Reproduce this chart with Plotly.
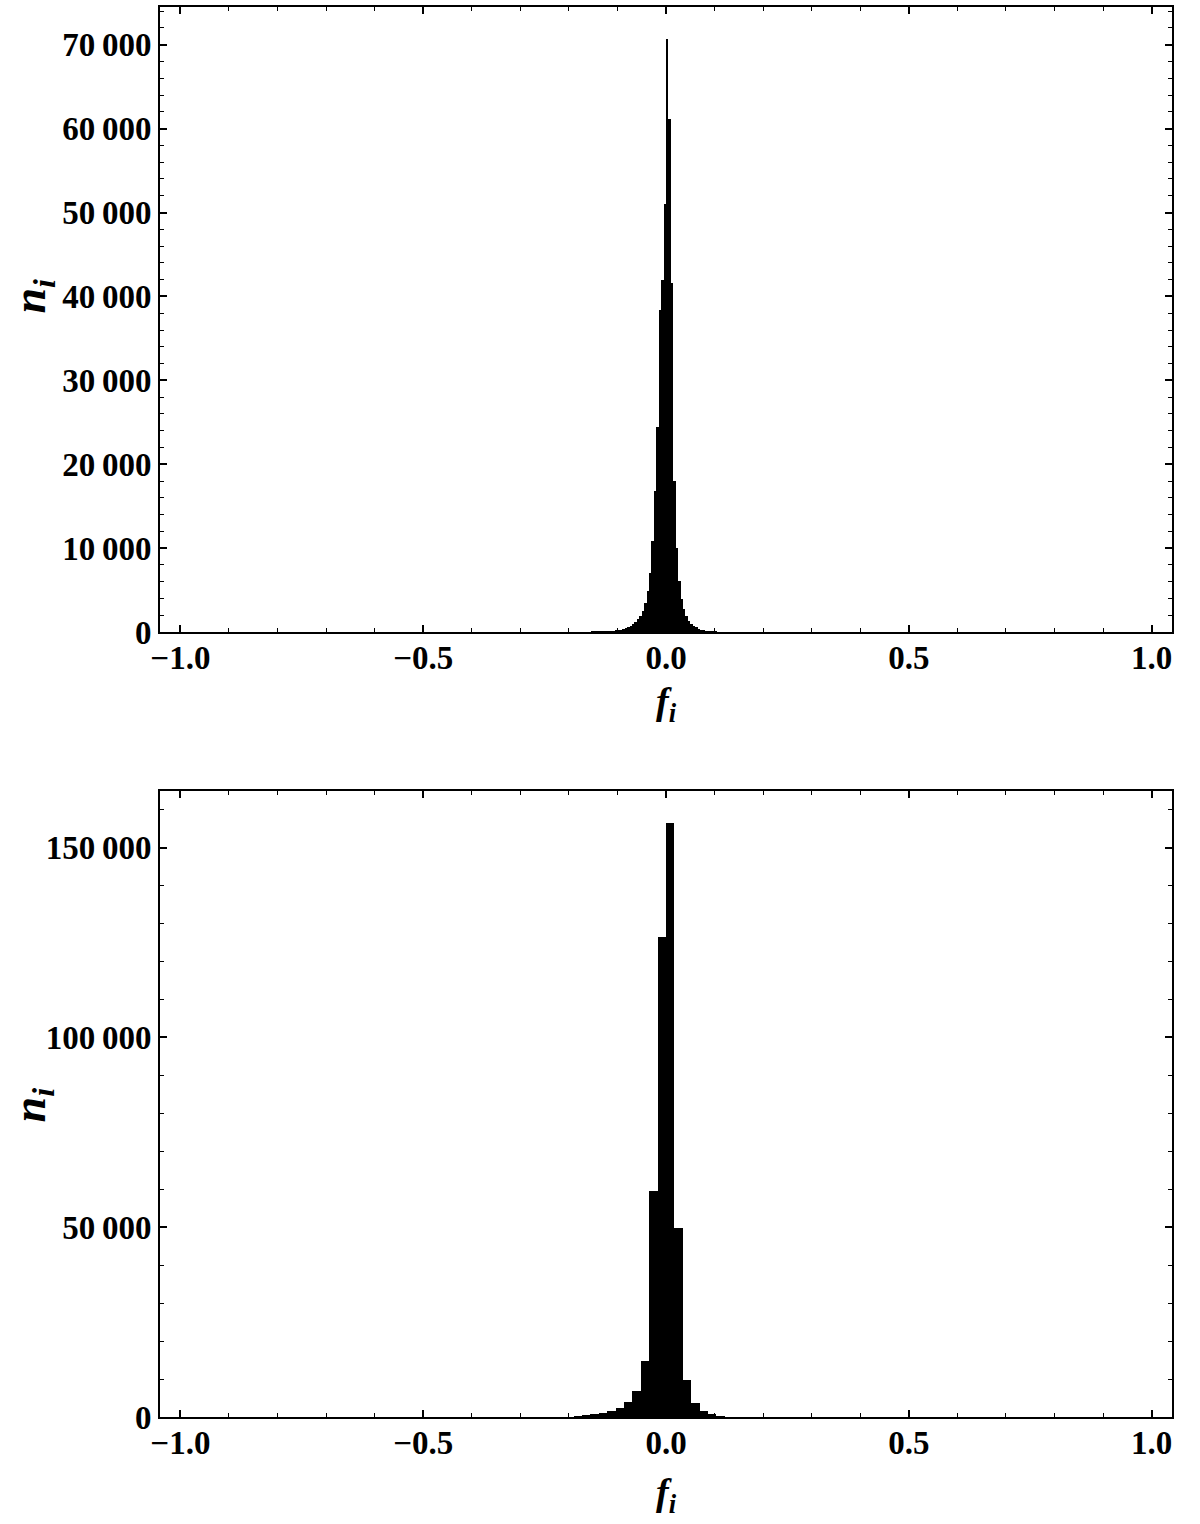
import plotly.graph_objects as go

# ---------------- data ----------------
# top histogram: bin width and counts per bin index k (bin = [k*w, (k+1)*w])
top_bin_width = 0.005
top_bin_index = list(range(-31, 21))
top_counts = [
    15, 20, 25, 30, 40, 50, 70, 90, 120, 150, 190, 240, 300, 380, 480,      # k=-31..-17
    600, 750, 950, 1200, 1500, 1900, 2500, 3500, 4900, 7000, 10800,         # k=-16..-6
    16800, 24400, 38400, 42000, 51000,                                      # k=-5..-1
    70700, 61200, 41600, 18000, 10000, 6100, 3900, 2700, 1900, 1300, 1000,  # k=0..10
    750, 550, 400, 300, 220, 160, 120, 90, 60, 40,                          # k=11..20
]

# bottom histogram
bot_bin_width = 0.0173
bot_bin_index = list(range(-11, 7))
bot_counts = [
    300, 450, 800, 1130, 1580, 2450, 3950, 6840, 14900,   # k=-11..-3
    59500, 126600,                                        # k=-2..-1
    156500, 49800, 9740, 3760, 1760, 870, 400,            # k=0..6
]

y_top_ticks = [0, 10000, 20000, 30000, 40000, 50000, 60000, 70000]
y_top_text = ["0", "10\u2009000", "20\u2009000", "30\u2009000", "40\u2009000",
              "50\u2009000", "60\u2009000", "70\u2009000"]
y_bot_ticks = [0, 50000, 100000, 150000]
y_bot_text = ["0", "50\u2009000", "100\u2009000", "150\u2009000"]
x_ticks = [-1.0, -0.5, 0.0, 0.5, 1.0]
x_text = ["\u22121.0", "\u22120.5", "0.0", "0.5", "1.0"]

# ---------------- figure ----------------
FONT = "Liberation Serif"
fig = go.Figure()

top_x = [(k + 0.5) * top_bin_width for k in top_bin_index]
bot_x = [(k + 0.5) * bot_bin_width for k in bot_bin_index]

fig.add_trace(go.Bar(x=top_x, y=top_counts, width=top_bin_width,
                     marker=dict(color="black", line=dict(width=0)),
                     xaxis="x", yaxis="y", showlegend=False))
fig.add_trace(go.Bar(x=bot_x, y=bot_counts, width=bot_bin_width,
                     marker=dict(color="black", line=dict(width=0)),
                     xaxis="x2", yaxis="y2", showlegend=False))

tickfont = dict(family=FONT, size=33, color="black", weight="bold")

def xaxis_cfg(anchor):
    return dict(range=[-1.042, 1.042], anchor=anchor, domain=[0, 1],
                tickvals=x_ticks, ticktext=x_text, tickfont=tickfont,
                ticks="inside", ticklen=7, tickwidth=1.5, tickcolor="black",
                minor=dict(dtick=0.1, tick0=0, ticks="inside", ticklen=4,
                           tickwidth=1, tickcolor="black"),
                showline=True, linecolor="black", linewidth=2, mirror="allticks",
                showgrid=False, zeroline=False, fixedrange=True, ticklabelstandoff=-5)

def yaxis_cfg(anchor, domain, rng, tv, tt, minor):
    return dict(range=rng, anchor=anchor, domain=domain,
                tickvals=tv, ticktext=tt, tickfont=tickfont,
                ticks="inside", ticklen=7, tickwidth=1.5, tickcolor="black",
                minor=dict(dtick=minor, tick0=0, ticks="inside", ticklen=4,
                           tickwidth=1, tickcolor="black"),
                showline=True, linecolor="black", linewidth=2, mirror="allticks",
                showgrid=False, zeroline=False, fixedrange=True, ticklabelstandoff=0)

fig.update_layout(
    width=1200, height=1524,
    margin=dict(l=160, r=28, t=5, b=107),
    paper_bgcolor="white", plot_bgcolor="white",
    bargap=0,
    xaxis=xaxis_cfg("y"),
    yaxis=yaxis_cfg("x", [0.5567, 1.0], [0, 74500], y_top_ticks, y_top_text, 2000),
    xaxis2=xaxis_cfg("y2"),
    yaxis2=yaxis_cfg("x2", [0.0, 0.4441], [0, 165000], y_bot_ticks, y_bot_text, 10000),
)

titlefont = dict(family=FONT, size=46, color="black", weight="bold")
xtitlefont = dict(family=FONT, size=38, color="black", weight="bold")
for ypos in [(1417 - 295) / 1412, (1417 - 1105) / 1412]:
    fig.add_annotation(text="<i>n</i><sub><i>i</i></sub>", xref="paper", yref="paper",
                       x=-127 / 1012, y=ypos, xanchor="center", yanchor="middle",
                       textangle=-90, showarrow=False, font=titlefont)
for ypos in [(1417 - 703) / 1412, (1417 - 1495) / 1412]:
    fig.add_annotation(text="<i>f</i><sub><i>i</i></sub>", xref="paper", yref="paper",
                       x=(666 - 160) / 1012, y=ypos, xanchor="center", yanchor="middle",
                       showarrow=False, font=xtitlefont)

fig.write_html("out.html", config={"displayModeBar": False},
               post_script="document.body.style.margin='0px';")
